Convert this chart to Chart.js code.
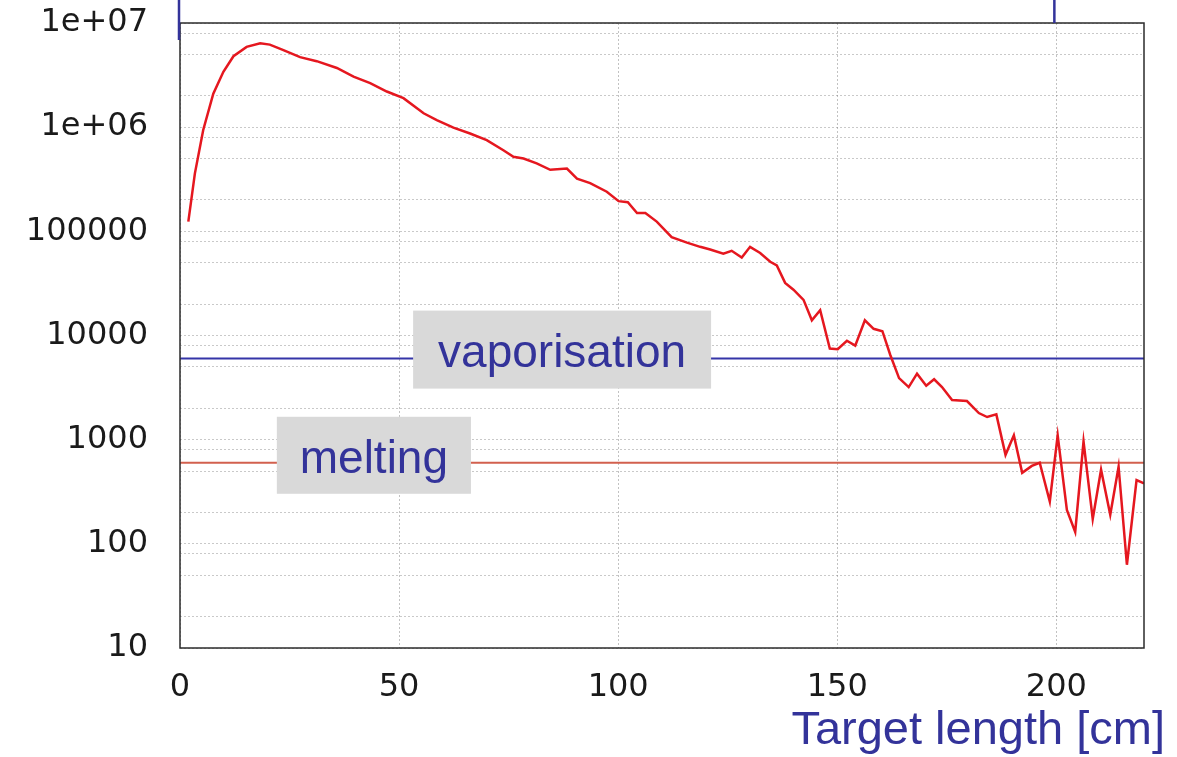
<!DOCTYPE html>
<html>
<head>
<meta charset="utf-8">
<script src="https://cdn.jsdelivr.net/npm/chart.js@4/dist/chart.umd.min.js"></script>
<style>
  html, body { margin: 0; padding: 0; background: #fff; }
</style>
</head>
<body>
<canvas id="energy-graph" width="1177" height="757"></canvas>
<script>
// data
const lengthCm = [1.9, 3.4, 5.3, 7.6, 9.9, 12.2, 15.2, 18.3, 20.5, 23.6, 27.4, 31.2, 35.8, 39.6, 43.4, 47.2,
  51.0, 55.6, 58.6, 62.4, 66.2, 70.0, 73.8, 76.1, 78.4, 81.4, 84.5, 88.3, 90.6, 93.6, 97.4, 100.1, 102.2,
  104.3, 106.2, 108.8, 112.2, 115.7, 118.7, 121.0, 124.0, 125.9, 128.2, 130.1, 132.4, 134.7, 136.2, 138.1,
  140.0, 142.3, 144.2, 146.1, 148.3, 150.1, 152.2, 154.1, 156.3, 158.3, 160.3, 162.1, 164.1, 166.3, 168.2,
  170.3, 172.1, 173.9, 176.2, 179.6, 182.3, 184.2, 186.3, 188.4, 190.3, 192.2, 194.4, 196.2, 198.5, 200.3,
  202.4, 204.3, 206.2, 208.3, 210.2, 212.3, 214.2, 216.1, 218.3, 220.0];
const energyDensity = [1.24e5, 3.6e5, 9.4e5, 2.1e6, 3.4e6, 4.8e6, 5.9e6, 6.4e6, 6.2e6, 5.5e6, 4.7e6, 4.3e6,
  3.7e6, 3.05e6, 2.65e6, 2.2e6, 1.9e6, 1.36e6, 1.17e6, 9.9e5, 8.7e5, 7.5e5, 6.0e5, 5.2e5, 5.0e5, 4.5e5,
  3.9e5, 4.0e5, 3.2e5, 2.9e5, 2.4e5, 1.95e5, 1.9e5, 1.5e5, 1.5e5, 1.24e5, 8.8e4, 7.8e4, 7.1e4, 6.7e4,
  6.1e4, 6.5e4, 5.6e4, 7.1e4, 6.2e4, 5.1e4, 4.7e4, 3.2e4, 2.75e4, 2.2e4, 1.4e4, 1.75e4, 7.5e3, 7.4e3,
  8.9e3, 8.0e3, 1.4e4, 1.16e4, 1.1e4, 6.5e3, 3.9e3, 3.2e3, 4.3e3, 3.3e3, 3.8e3, 3.2e3, 2.4e3, 2.35e3,
  1.8e3, 1.65e3, 1.75e3, 715, 1100, 480, 560, 600, 255, 1100, 212, 130, 960, 173, 515, 190, 550, 63,
  410, 380];

const vaporisationLevel = 6000;
const meltingLevel = 600;

const xTicks = [0, 50, 100, 150, 200];
const yDecades = [10, 100, 1000, 10000, 100000, 1000000, 10000000];
const yDecadeLabels = ['10', '100', '1000', '10000', '100000', '1e+06', '1e+07'];
const yGridSteps = [1, 2, 5, 8];

const curvePoints = lengthCm.map((x, i) => ({ x: x, y: energyDensity[i] }));

const darkBlue = '#33339a';

// frame, blue marks at the top, label boxes and axis title
const decorations = {
  id: 'decorations',
  afterDatasetsDraw(chart) {
    const { ctx, chartArea: a, scales } = chart;
    ctx.save();

    ctx.strokeStyle = '#2b2b2b';
    ctx.lineWidth = 1.5;
    ctx.strokeRect(a.left, a.top, a.right - a.left, a.bottom - a.top);

    ctx.strokeStyle = darkBlue;
    ctx.lineWidth = 2.5;
    ctx.beginPath();
    ctx.moveTo(a.left - 1, 0);
    ctx.lineTo(a.left - 1, 40);
    ctx.moveTo(scales.x.getPixelForValue(200) - 2, 0);
    ctx.lineTo(scales.x.getPixelForValue(200) - 2, 23);
    ctx.stroke();

    ctx.font = '46px "Liberation Sans", Arial, sans-serif';
    ctx.textBaseline = 'alphabetic';

    const vapY = scales.y.getPixelForValue(vaporisationLevel);
    const vapL = scales.x.getPixelForValue(53.2);
    const vapR = scales.x.getPixelForValue(121.2);
    ctx.fillStyle = '#d9d9d9';
    ctx.fillRect(vapL, vapY - 48, vapR - vapL, 78);
    ctx.fillStyle = darkBlue;
    ctx.textAlign = 'center';
    ctx.fillText('vaporisation', (vapL + vapR) / 2, vapY + 8);

    const meltY = scales.y.getPixelForValue(meltingLevel);
    const meltL = scales.x.getPixelForValue(22.1);
    const meltR = scales.x.getPixelForValue(66.4);
    ctx.fillStyle = '#d9d9d9';
    ctx.fillRect(meltL, meltY - 46, meltR - meltL, 77);
    ctx.fillStyle = darkBlue;
    ctx.fillText('melting', (meltL + meltR) / 2, meltY + 10);

    ctx.font = '47px "Liberation Sans", Arial, sans-serif';
    ctx.textAlign = 'right';
    ctx.fillText('Target length [cm]', 1165, 744);

    ctx.restore();
  }
};

const energyChart = new Chart(document.querySelector('#energy-graph'), {
  type: 'line',
  data: {
    datasets: [
      {
        data: curvePoints,
        borderColor: '#e5171f',
        borderWidth: 2.5,
        pointRadius: 0,
        tension: 0
      },
      {
        data: [{ x: 0, y: vaporisationLevel }, { x: 220, y: vaporisationLevel }],
        borderColor: '#3535a8',
        borderWidth: 2,
        pointRadius: 0
      },
      {
        data: [{ x: 0, y: meltingLevel }, { x: 220, y: meltingLevel }],
        borderColor: '#d2604e',
        borderWidth: 2,
        pointRadius: 0
      }
    ]
  },
  options: {
    responsive: false,
    animation: false,
    devicePixelRatio: 1,
    layout: {
      padding: { top: 23, right: 33, left: 0, bottom: 0 }
    },
    scales: {
      x: {
        type: 'linear',
        min: 0,
        max: 220,
        afterFit: (scale) => {
          scale.height = 109;
          scale.paddingLeft = 0;
          scale.paddingRight = 0;
        },
        afterBuildTicks: (scale) => {
          scale.ticks = xTicks.map(v => ({ value: v }));
        },
        ticks: {
          autoSkip: false,
          maxRotation: 0,
          padding: 20,
          color: '#1a1a1a',
          font: { family: '"DejaVu Sans", Verdana, sans-serif', size: 32 }
        },
        grid: {
          drawTicks: false,
          color: 'rgba(120,120,120,0.45)',
          lineWidth: 1
        },
        border: { display: false, dash: [2, 2] }
      },
      y: {
        type: 'logarithmic',
        min: 10,
        max: 10000000,
        afterFit: (scale) => {
          scale.width = 180;
          scale.paddingTop = 0;
          scale.paddingBottom = 0;
        },
        afterBuildTicks: (scale) => {
          const ticks = [];
          yDecades.forEach(d => {
            yGridSteps.forEach(s => {
              if (d * s <= 10000000) ticks.push({ value: d * s });
            });
          });
          scale.ticks = ticks;
        },
        ticks: {
          autoSkip: false,
          padding: 32,
          color: '#1a1a1a',
          font: { family: '"DejaVu Sans", Verdana, sans-serif', size: 32 },
          callback: (value) => {
            const i = yDecades.indexOf(value);
            return i >= 0 ? yDecadeLabels[i] : '';
          }
        },
        grid: {
          drawTicks: false,
          color: 'rgba(120,120,120,0.4)',
          lineWidth: 1
        },
        border: { display: false, dash: [2, 2] }
      }
    },
    plugins: {
      legend: { display: false },
      tooltip: { enabled: false }
    }
  },
  plugins: [decorations]
});
</script>
</body>
</html>
